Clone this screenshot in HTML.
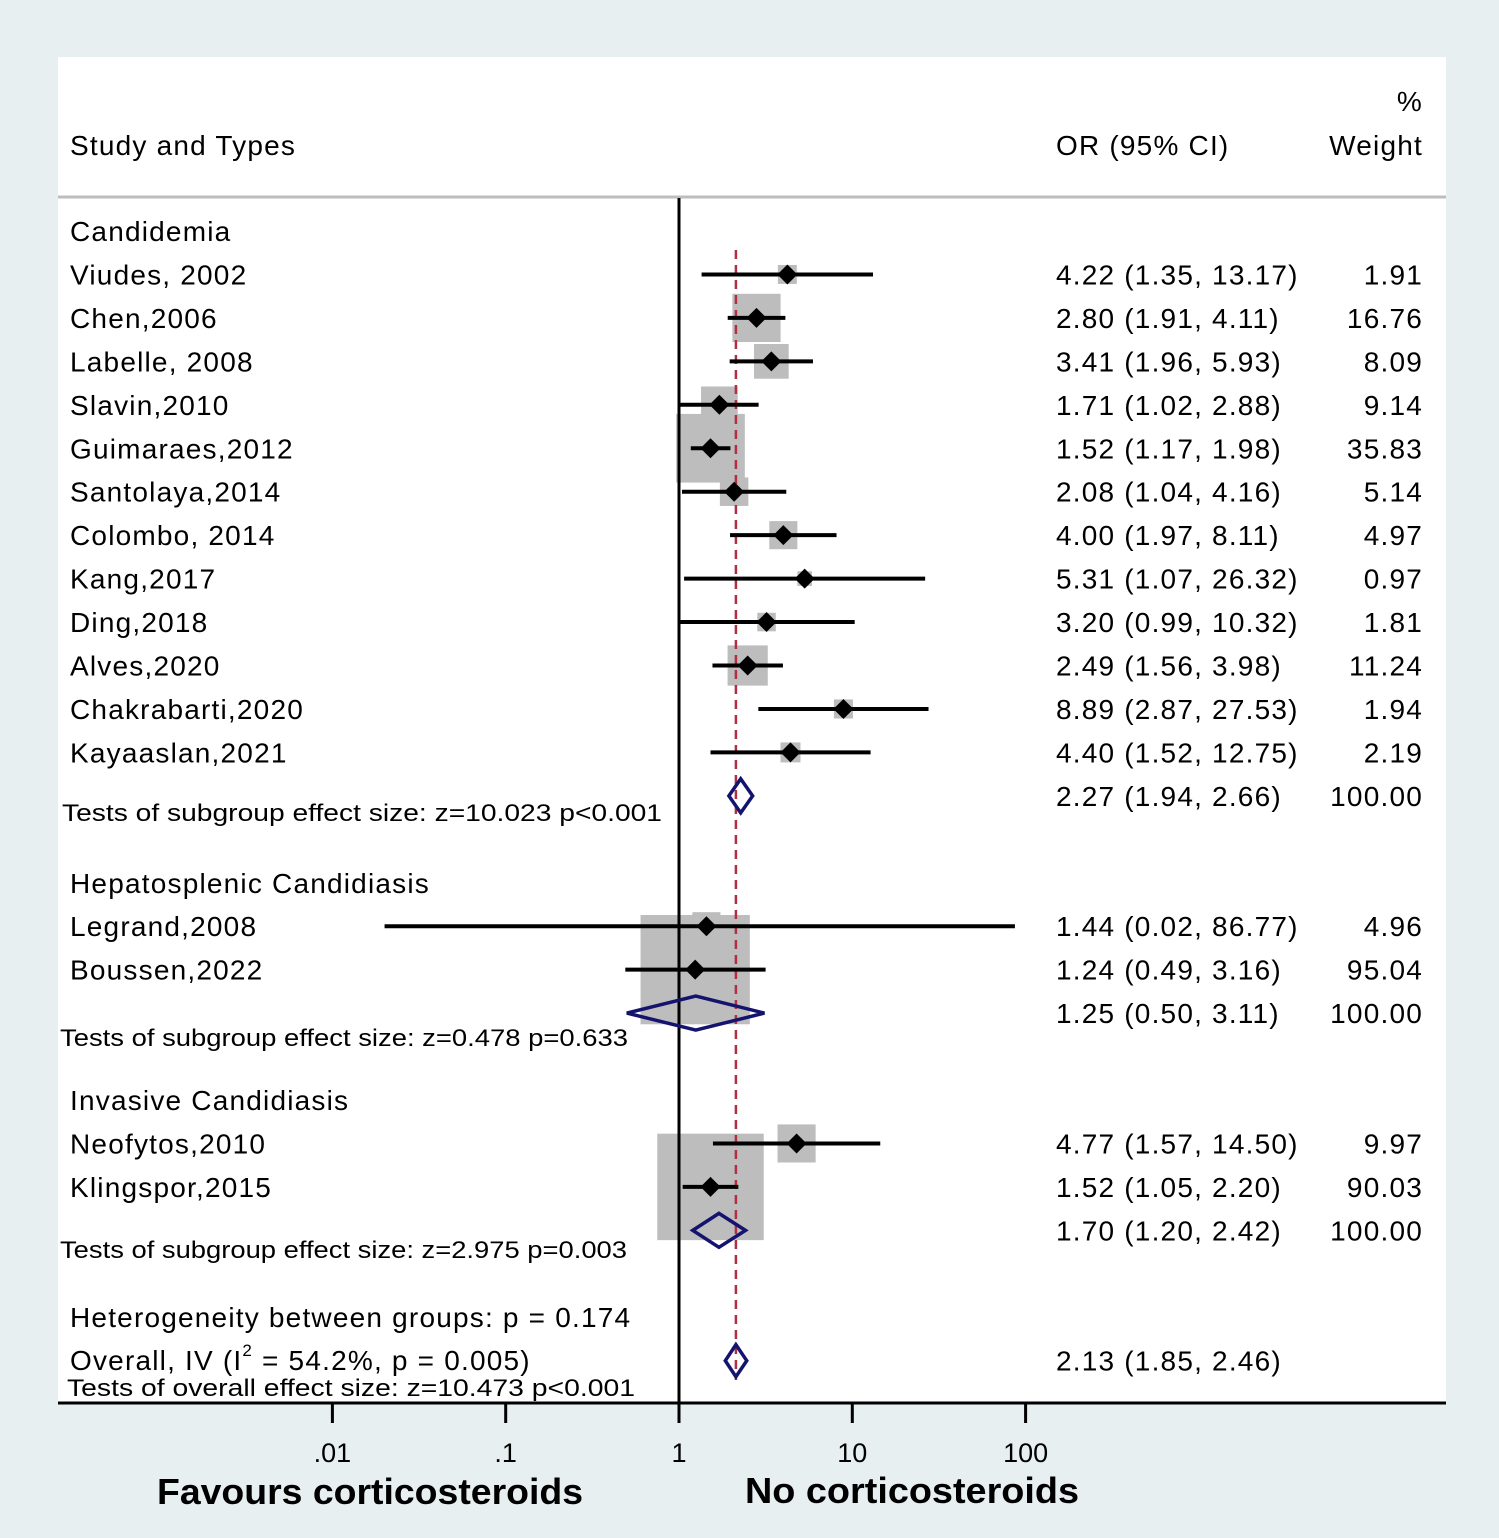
<!DOCTYPE html>
<html><head><meta charset="utf-8"><style>
html,body{margin:0;padding:0;background:#e8eff1;}
svg{display:block;}
text{font-family:"Liberation Sans","DejaVu Sans",sans-serif;}
text[font-size="28"]{letter-spacing:1.2px;}
</style></head><body>
<svg id="chart" width="1499" height="1538" viewBox="0 0 1499 1538" xmlns="http://www.w3.org/2000/svg">
<rect x="0" y="0" width="1499" height="1538" fill="#e8eff1"/>
<rect x="58" y="57" width="1388" height="1345" fill="#ffffff"/>
<line x1="58" y1="197" x2="1446" y2="197" stroke="#bdbdbd" stroke-width="3"/>
<text x="70" y="155" font-size="28">Study and Types</text>
<text x="1056" y="155" font-size="28">OR (95% CI)</text>
<text x="1423" y="111" font-size="28" text-anchor="end">%</text>
<text x="1423" y="155" font-size="28" text-anchor="end">Weight</text>
<g id="marks"></g>
</svg>
<script>
// Data
const studies = ["Viudes, 2002","Chen,2006","Labelle, 2008","Slavin,2010","Guimaraes,2012","Santolaya,2014","Colombo, 2014","Kang,2017","Ding,2018","Alves,2020","Chakrabarti,2020","Kayaaslan,2021","Legrand,2008","Boussen,2022","Neofytos,2010","Klingspor,2015"];
const orValues = [4.22,2.80,3.41,1.71,1.52,2.08,4.00,5.31,3.20,2.49,8.89,4.40,1.44,1.24,4.77,1.52];
const lowerCI = [1.35,1.91,1.96,1.02,1.17,1.04,1.97,1.07,0.99,1.56,2.87,1.52,0.02,0.49,1.57,1.05];
const upperCI = [13.17,4.11,5.93,2.88,1.98,4.16,8.11,26.32,10.32,3.98,27.53,12.75,86.77,3.16,14.50,2.20];
const weights = [1.91,16.76,8.09,9.14,35.83,5.14,4.97,0.97,1.81,11.24,1.94,2.19,4.96,95.04,9.97,90.03];
const rowIndex = [1,2,3,4,5,6,7,8,9,10,11,12,16,17,21,22];
const pooledLabels = ["Candidemia","Hepatosplenic","Invasive","Overall"];
const pooledOR = [2.27,1.25,1.70,2.13];
const pooledLower = [1.94,0.50,1.20,1.85];
const pooledUpper = [2.66,3.11,2.42,2.46];
const pooledWeight = ["100.00","100.00","100.00",""];
const pooledRow = [13,18,23,26];
const groupHeaders = ["Candidemia","Hepatosplenic Candidiasis","Invasive Candidiasis"];
const groupRow = [0,15,20];
const tickValues = [0.01,0.1,1,10,100];
const tickLabels = [".01",".1","1","10","100"];

const NS="http://www.w3.org/2000/svg";
const g=document.getElementById('marks');
const xScale=v=>679+173.3*Math.log10(v);
const yRow=r=>231+43.45*r;
function el(tag,attrs,txt){const e=document.createElementNS(NS,tag);for(const k in attrs)e.setAttribute(k,attrs[k]);if(txt!==undefined)e.textContent=txt;g.appendChild(e);return e;}
const f2=v=>v.toFixed(2);

groupHeaders.forEach((h,i)=>{
  const t=el('text',{x:70,y:yRow(groupRow[i])+10,'font-size':28},h);
  
  
});
studies.forEach((s,i)=>{
  const y=yRow(rowIndex[i]);const side=4+10.8*Math.sqrt(weights[i]);const cx=xScale(orValues[i]);
  const r=el('rect',{x:cx-side/2,y:y-side/2,width:side,height:side,fill:'#bdbdbd'});
  
  
});
const ref=el('line',{x1:679,y1:198,x2:679,y2:1402,stroke:'#000','stroke-width':3});


const ov=el('line',{x1:xScale(pooledOR[3]),y1:250,x2:xScale(pooledOR[3]),y2:1380,stroke:'#b03040','stroke-width':2.5,'stroke-dasharray':'9,6'});



studies.forEach((s,i)=>{
  const y=yRow(rowIndex[i]);const ty=y+10;
  const n=el('text',{x:70,y:ty,'font-size':28},s);
  
  
  const ci=el('line',{x1:xScale(lowerCI[i]),y1:y,x2:xScale(upperCI[i]),y2:y,stroke:'#000','stroke-width':4});
  
  
  const cx=xScale(orValues[i]);
  const d=el('polygon',{points:`${cx-10},${y} ${cx},${y-10} ${cx+10},${y} ${cx},${y+10}`,fill:'#000'});
  
  
  const o=el('text',{x:1056,y:ty,'font-size':28},`${f2(orValues[i])} (${f2(lowerCI[i])}, ${f2(upperCI[i])})`);
  
  
  const w=el('text',{x:1423,y:ty,'font-size':28,'text-anchor':'end'},f2(weights[i]));
  
  
});
pooledOR.forEach((v,i)=>{
  const y=yRow(pooledRow[i]);const h=i==3?16:17;
  const x0=xScale(pooledLower[i]),x1=xScale(pooledUpper[i]),c=xScale(v);
  const p=el('polygon',{points:`${x0},${y} ${c},${y-h} ${x1},${y} ${c},${y+h}`,fill:'none',stroke:'#14146e','stroke-width':3.5});
  
  
  const o=el('text',{x:1056,y:y+10,'font-size':28},`${f2(v)} (${f2(pooledLower[i])}, ${f2(pooledUpper[i])})`);
  
  
  if(pooledWeight[i]){const w=el('text',{x:1423,y:y+10,'font-size':28,'text-anchor':'end'},pooledWeight[i]);
  
  }
});
const tests=[["Tests of subgroup effect size: z=10.023  p<0.001",62,821,600],["Tests of subgroup effect size: z=0.478 p=0.633",60,1046,568],["Tests of subgroup effect size: z=2.975 p=0.003",60,1258,567],["Tests of overall effect size: z=10.473   p<0.001",67,1396,568]];
tests.forEach(t=>{
  const e=el('text',{x:t[1],y:t[2],'font-size':24,'font-family':'DejaVu Sans, sans-serif',textLength:t[3],lengthAdjust:'spacingAndGlyphs'},t[0]);
  
  
});
const het=el('text',{x:70,y:1327,'font-size':28},'Heterogeneity between groups: p = 0.174');


const ovl=el('text',{x:70,y:1370,'font-size':28},'');
ovl.innerHTML='Overall, IV (I<tspan font-size="17" dy="-14">2</tspan><tspan dy="14"> = 54.2%, p = 0.005)</tspan>';


const ax=el('line',{x1:58,y1:1403,x2:1446,y2:1403,stroke:'#000','stroke-width':3});


tickValues.forEach((v,i)=>{
  const x=xScale(v);
  const t=el('line',{x1:x,y1:1403,x2:x,y2:1423,stroke:'#000','stroke-width':3});
  
  
  const l=el('text',{x:x,y:1462,'font-size':27,'text-anchor':'middle'},tickLabels[i]);
  
  
});
const fl=el('text',{x:370,y:1504,'font-size':36,'font-weight':'bold','font-family':'DejaVu Sans, sans-serif','text-anchor':'middle',textLength:426,lengthAdjust:'spacingAndGlyphs'},'Favours corticosteroids');


const nl=el('text',{x:912,y:1503,'font-size':36,'font-weight':'bold','font-family':'DejaVu Sans, sans-serif','text-anchor':'middle',textLength:334,lengthAdjust:'spacingAndGlyphs'},'No corticosteroids');


</script>
</body></html>
